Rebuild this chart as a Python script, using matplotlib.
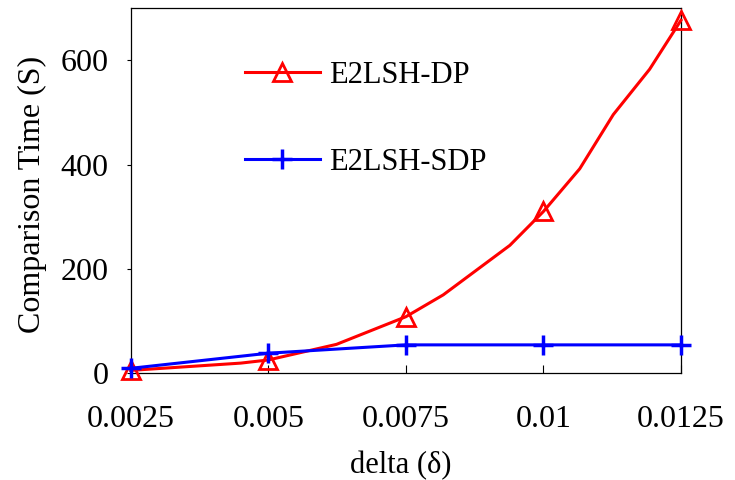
import matplotlib
matplotlib.use('Agg')
from matplotlib import pyplot as plt

plt.rcParams['font.family'] = ['Liberation Serif', 'DejaVu Serif']

# E2LSH-DP (red) - curve points
dp_delta = [0.0025, 0.0045, 0.005, 0.00624, 0.0075, 0.00818, 0.00939,
            0.01, 0.01066, 0.01127, 0.01193, 0.0125]
dp_time = [5, 19, 25, 55, 108, 150, 245, 310, 392, 496, 583, 677]
dp_marks = [0, 2, 4, 7, 11]

# E2LSH-SDP (blue)
sdp_delta = [0.0025, 0.005, 0.0075, 0.01, 0.0125]
sdp_time = [9, 38, 54, 54, 54]

xticks = [0.0025, 0.005, 0.0075, 0.01, 0.0125]
xtick_labels = ['0.0025', '0.005', '0.0075', '0.01', '0.0125']
yticks = [0, 200, 400, 600]

fig = plt.figure(figsize=(7.35, 4.8), dpi=100)
ax = fig.add_axes([0.1778, 0.2229, 0.9265 - 0.1778, 0.9827 - 0.2229])

ax.plot(dp_delta, dp_time, color='red', linewidth=2.2, marker='^',
        markevery=dp_marks, markersize=13, markerfacecolor='none',
        markeredgewidth=2, clip_on=False, label='E2LSH-DP', zorder=3)
ax.plot(sdp_delta, sdp_time, color='blue', linewidth=2.2, marker='+',
        markersize=15, markeredgewidth=2.5, clip_on=False,
        label='E2LSH-SDP', zorder=4)

ax.set_xlim(0.0025, 0.0125)
ax.set_ylim(0, 700)
ax.set_xticks(xticks)
ax.set_xticklabels(xtick_labels)
ax.set_yticks(yticks)
ax.tick_params(axis='x', direction='in', length=6, width=0.8, pad=23, labelsize=23)
ax.tick_params(axis='y', direction='out', length=3, width=0.8, pad=13, labelsize=23)
for s in ax.spines.values():
    s.set_linewidth(0.9)

ax.set_ylabel('Comparison Time (S)', fontsize=23)
ax.yaxis.set_label_coords(-0.152, 0.49)
ax.set_xlabel('delta (δ)', fontsize=22, va='center')
ax.xaxis.set_label_coords(0.49, -0.255)

ax.legend(loc='upper left', bbox_to_anchor=(0.3333, 0.873),
          bbox_transform=fig.transFigure, frameon=False, fontsize=22,
          handlelength=2.45, handletextpad=0.3, labelspacing=1.9,
          borderpad=0, borderaxespad=0)

fig.savefig('out.png', dpi=100)
